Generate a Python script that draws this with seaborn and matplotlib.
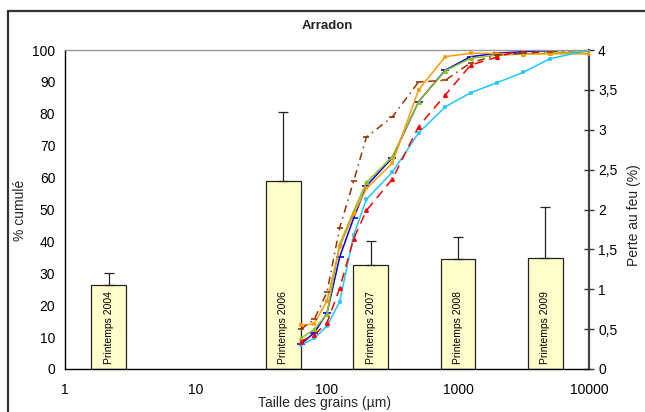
import matplotlib
matplotlib.use('Agg')
import matplotlib.pyplot as plt
import matplotlib.patches as patches
import matplotlib.ticker as mticker
import numpy as np
import pandas as pd
import seaborn as sns

# sieve sizes (µm)
sizes = [63, 80, 100, 125, 160, 200, 315, 500, 800, 1250, 2000, 3150, 5000, 10000]

# cumulative percentages, one list per sample
blue_vals = [7.7, 11.4, 17.5, 35.1, 47.4, 57.4, 66.2, 83.8, 93.7, 97.9, 99.0, 99.5, 99.8, 100.0]
green_vals = [9.6, 12.4, 17.3, 39.2, 49.5, 58.5, 66.5, 83.8, 93.5, 97.4, 98.4, 98.7, 99.0, 99.5]
orange_vals = [13.7, 14.2, 21.4, 38.3, 48.7, 56.6, 64.5, 87.5, 97.9, 99.0, 98.9, 98.8, 98.8, 98.8]
cyan_vals = [7.5, 9.6, 13.5, 21.1, 42.0, 53.2, 61.7, 74.0, 82.2, 86.6, 89.8, 93.0, 97.2, 100.0]
red_vals = [8.6, 10.7, 14.5, 25.3, 40.9, 49.7, 59.5, 76.0, 85.9, 95.3, 97.8, 100.2, 100.8, 100.8]
brown_vals = [12.4, 15.6, 24.1, 44.3, 59.0, 72.7, 79.0, 90.0, 90.5, 96.0, 98.4, 99.0, 99.5, 100.0]

# loss on ignition per campaign (secondary axis)
campaigns = ['Printemps 2004', 'Printemps 2005', 'Printemps 2006',
             'Printemps 2007', 'Printemps 2008', 'Printemps 2009']
paf_mean = [1.05, np.nan, 2.36, 1.31, 1.38, 1.39]
paf_err = [0.15, np.nan, 0.86, 0.29, 0.28, 0.64]

series = [
    (blue_vals, '#0000FF', '-', '_', 6),
    (green_vals, '#8DC21F', '-', '^', 2.5),
    (orange_vals, '#FF9900', '-', 's', 2),
    (cyan_vals, '#1EC8FF', '-', 's', 2),
    (red_vals, '#FF0000', (0, (6, 4)), '^', 2.5),
    (brown_vals, '#993300', (0, (5, 3, 1, 3)), '_', 5),
]

sns.set_style('white')
plt.rcParams['font.family'] = ['Liberation Sans', 'DejaVu Sans']

fig = plt.figure(figsize=(6.45, 4.12), dpi=100)
rect = [65 / 645, 1 - 369 / 412, (589 - 65) / 645, (369 - 50) / 412]

# outer chart border
fig.patches.append(patches.Rectangle((8 / 645, -0.05), 1.1, 1.05 - 11 / 412 + 0.0,
                                     transform=fig.transFigure, fill=False,
                                     edgecolor='#333333', linewidth=1.6))

# bars on the secondary axis
ax_bar = fig.add_axes(rect)
bar_df = pd.DataFrame({'campagne': campaigns, 'paf': paf_mean})
sns.barplot(data=bar_df, x='campagne', y='paf', order=campaigns, ax=ax_bar,
            color='#FFFFCC', edgecolor='#222222', linewidth=0.9, width=0.4,
            saturation=1, errorbar=None)
idx = np.arange(len(campaigns))
err_lo = np.zeros(len(campaigns))
ax_bar.errorbar(idx, paf_mean, yerr=[err_lo, paf_err], fmt='none',
                ecolor='#222222', elinewidth=0.9, capsize=3.5, capthick=0.9)
for i, (name, v) in enumerate(zip(campaigns, paf_mean)):
    if not np.isnan(v):
        ax_bar.text(i, 0.06, name, rotation=90, ha='center', va='bottom',
                    fontsize=7.5, color='black')
ax_bar.set_xlim(-0.5, 5.5)
ax_bar.set_ylim(0, 4)
ax_bar.set_xlabel('')
ax_bar.set_ylabel('')
ax_bar.set_xticks([])
ax_bar.yaxis.tick_right()
ax_bar.set_yticks(np.arange(0, 4.01, 0.5))
ax_bar.yaxis.set_major_formatter(mticker.FuncFormatter(lambda v, p: f'{v:g}'.replace('.', ',')))
ax_bar.tick_params(axis='y', direction='inout', length=7, width=1, colors='#333333',
                   labelsize=10, labelcolor='black', pad=3)
for s in ['left', 'top', 'bottom']:
    ax_bar.spines[s].set_visible(False)
ax_bar.spines['right'].set_color('#444444')
ax_bar.spines['right'].set_linewidth(1.6)

# cumulative grain size curves
ax = fig.add_axes(rect)
ax.patch.set_alpha(0)
for vals, col, ls, mk, ms in series:
    sns.lineplot(x=sizes, y=vals, ax=ax, color=col, linestyle=ls, linewidth=1.1,
                 marker=mk, markersize=ms, markeredgecolor=col, markeredgewidth=1.2,
                 sort=False, errorbar=None)
ax.set_xscale('log')
ax.set_xlim(1, 10000)
ax.set_ylim(0, 100)
ax.set_xticks([1, 10, 100, 1000, 10000])
ax.set_xticklabels(['1', '10', '100', '1000', '10000'])
ax.xaxis.set_minor_locator(mticker.NullLocator())
ax.set_yticks(range(0, 101, 10))
ax.tick_params(axis='both', direction='out', length=4, width=1, labelsize=10,
               colors='black', pad=3)
ax.tick_params(axis='x', pad=6)
ax.spines['right'].set_visible(False)
ax.spines['top'].set_color('#999999')
ax.spines['left'].set_color('black')
ax.spines['bottom'].set_color('black')
for s in ['left', 'bottom', 'top']:
    ax.spines[s].set_linewidth(1)

fig.text(327 / 645, 1 - 26 / 412, 'Arradon', ha='center', va='center',
         fontsize=9.5, fontweight='bold')
fig.text(20 / 645, 1 - 210 / 412, '% cumulé', ha='center', va='center',
         rotation=90, fontsize=10)
fig.text(634 / 645, 1 - 215 / 412, 'Perte au feu (%)', ha='center', va='center',
         rotation=90, fontsize=10)
fig.text(324 / 645, 1 - 403 / 412, 'Taille des grains (µm)', ha='center',
         va='center', fontsize=10)

fig.savefig('out.png', dpi=100)
